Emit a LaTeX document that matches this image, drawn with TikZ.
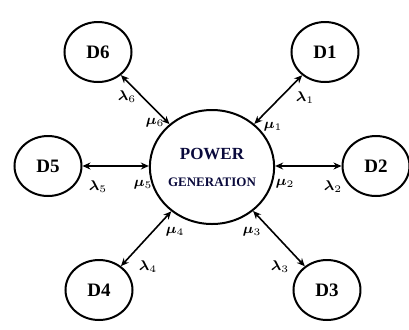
\documentclass[tikz,border=0pt]{standalone}
\usepackage{amsmath,amssymb,bm}
\usepackage{fontspec}
\setmainfont{Liberation Serif}
\usetikzlibrary{shapes.geometric,arrows.meta}
\definecolor{hubtext}{RGB}{10,10,60}

\begin{document}
\begin{tikzpicture}[
x=0.5pt, y=-0.5pt, % pixel grid of the original figure
>={Stealth[length=4pt,width=3.5pt]},
every node/.style={inner sep=0pt},
dnode/.style={draw, ellipse, line width=1pt, minimum width=33.5pt, minimum height=30pt, font=\fontsize{9.5}{10}\selectfont\bfseries},
hub/.style={draw, ellipse, line width=1pt, minimum width=53pt, minimum height=57pt, align=center, text=hubtext, font=\bfseries},
link/.style={<->, line width=0.8pt},
hlink/.style={<->, line width=1.3pt},
lbl/.style={font=\fontsize{7.5}{8}\selectfont}
]
\useasboundingbox (0,0) rectangle (409,329);

% ================= Nodes =================

% Central generation unit
\node[hub] (P) at (212, 167) {\fontsize{8.5}{10}\selectfont POWER\\[1.5pt]\fontsize{6.5}{8}\selectfont GENERATION};

% Demand nodes around it
\node[dnode] (D1) at (325, 52) {D1};
\node[dnode] (D2) at (376, 166) {D2};
\node[dnode] (D3) at (327, 290) {D3};
\node[dnode] (D4) at (99, 290) {D4};
\node[dnode] (D5) at (48, 166) {D5};
\node[dnode] (D6) at (98, 52) {D6};

% ================= Links =================

\draw[link] (D1) -- (P);
\draw[hlink] (P.east |- D2) -- (D2);
\draw[link] (D3) -- (P);
\draw[link] (D4) -- (P);
\draw[hlink] (D5) -- (P.west |- D5);
\draw[link] (D6) -- (P);

% ================= Rates =================

\node[lbl] (l1) at (305, 98) {$\bm{\lambda}_1$};
\node[lbl] (m1) at (273, 127) {$\bm{\mu}_1$};
\node[lbl] (l2) at (333, 187) {$\bm{\lambda}_2$};
\node[lbl] (m2) at (285, 184) {$\bm{\mu}_2$};
\node[lbl] (l3) at (280, 267) {$\bm{\lambda}_3$};
\node[lbl] (m3) at (252, 232) {$\bm{\mu}_3$};
\node[lbl] (l4) at (148, 267) {$\bm{\lambda}_4$};
\node[lbl] (m4) at (175, 232) {$\bm{\mu}_4$};
\node[lbl] (l5) at (98, 187) {$\bm{\lambda}_5$};
\node[lbl] (m5) at (143, 185) {$\bm{\mu}_5$};
\node[lbl] (l6) at (127, 97) {$\bm{\lambda}_6$};
\node[lbl] (m6) at (155, 123) {$\bm{\mu}_6$};

\end{tikzpicture}
\end{document}
